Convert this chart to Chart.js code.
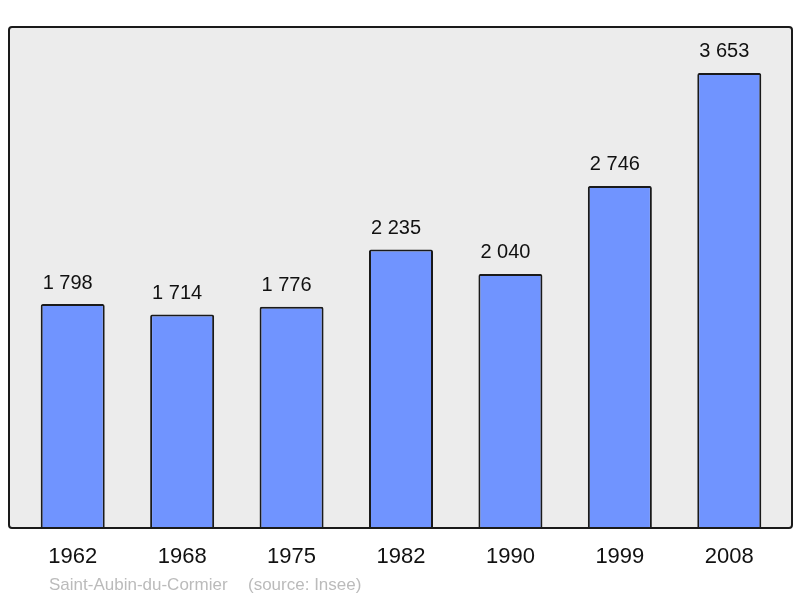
<!DOCTYPE html>
<html>
<head>
<meta charset="utf-8">
<script src="https://cdn.jsdelivr.net/npm/chart.js@4/dist/chart.umd.min.js"></script>
<style>
  html, body { margin: 0; padding: 0; background: #fff; }
  #wrap { width: 800px; height: 598px; position: relative; }
</style>
</head>
<body>
<div id="wrap"><canvas id="chart"></canvas></div>
<script>
const years = ["1962", "1968", "1975", "1982", "1990", "1999", "2008"];
const population = [1798, 1714, 1776, 2235, 2040, 2746, 3653];
const commune = "Saint-Aubin-du-Cormier";
const source = "(source: Insee)";

const FONT = "'Liberation Sans', Arial, sans-serif";

// gray framed box behind the bars + labels
const decor = {
    id: "decor",
    beforeDraw(chart) {
        const ctx = chart.ctx;
        const a = chart.chartArea;
        const x0 = 9, y0 = 27, x1 = 792, y1 = a.bottom;
        ctx.save();
        ctx.beginPath();
        ctx.roundRect(x0, y0, x1 - x0, y1 - y0, 3);
        ctx.fillStyle = "#ececec";
        ctx.fill();
        ctx.restore();
    },
    afterDatasetsDraw(chart) {
        const ctx = chart.ctx;
        const a = chart.chartArea;
        const x0 = 9, y0 = 27, x1 = 792, y1 = a.bottom;
        ctx.save();
        ctx.beginPath();
        ctx.roundRect(x0, y0, x1 - x0, y1 - y0, 3);
        ctx.lineWidth = 2;
        ctx.strokeStyle = "#1a1a1a";
        ctx.stroke();

        const meta = chart.getDatasetMeta(0);
        ctx.fillStyle = "#111";
        ctx.textAlign = "center";
        ctx.textBaseline = "middle";
        ctx.font = "20px " + FONT;
        meta.data.forEach((bar, i) => {
            const label = population[i].toLocaleString("fr-FR").replace(/\s/g, " ");
            ctx.fillText(label, bar.x - 5, bar.y - 21);
        });

        const xs = chart.scales.x;
        ctx.font = "22px " + FONT;
        years.forEach((y, i) => {
            ctx.fillText(y, xs.getPixelForValue(i), 557);
        });

        ctx.fillStyle = "#bbbbbb";
        ctx.font = "17px " + FONT;
        ctx.textAlign = "left";
        ctx.fillText(commune, 49, 585);
        ctx.fillText(source, 248, 585);
        ctx.restore();
    }
};

new Chart(document.getElementById("chart"), {
    type: "bar",
    data: {
        labels: years,
        datasets: [{
            data: population,
            backgroundColor: "#7094ff",
            borderColor: "#1a1a1a",
            borderWidth: 2,
            borderRadius: 2,
            borderSkipped: "bottom",
            barPercentage: 0.585,
            categoryPercentage: 1
        }]
    },
    options: {
        responsive: true,
        maintainAspectRatio: false,
        animation: false,
        layout: { padding: { left: 18, right: 16, top: 27, bottom: 70 } },
        plugins: { legend: { display: false }, tooltip: { enabled: false } },
        scales: {
            x: { display: false },
            y: { display: false, min: 0, max: 4022 }
        }
    },
    plugins: [decor]
});
</script>
</body>
</html>
